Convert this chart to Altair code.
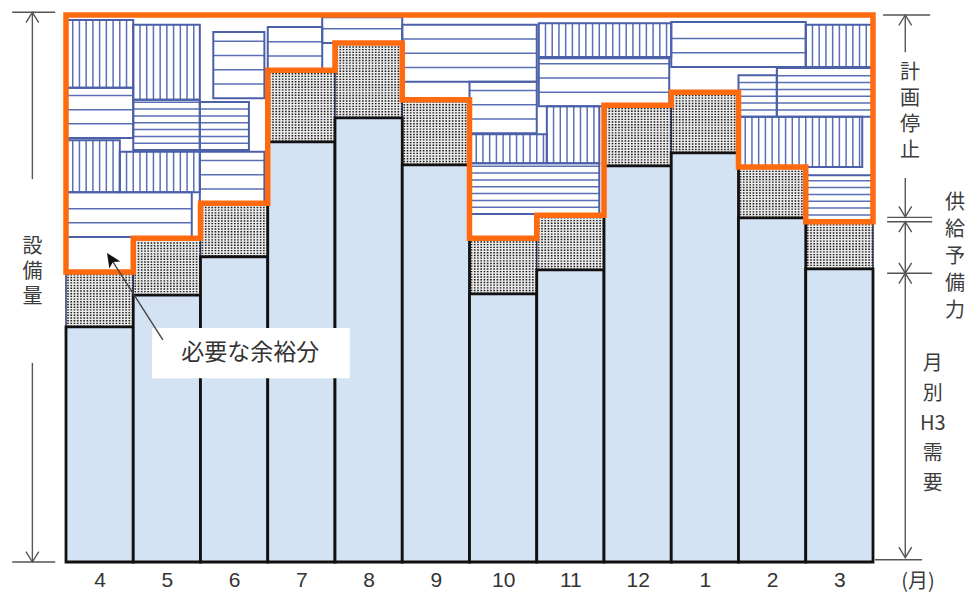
import json

import altair as alt
import numpy as np
import pandas as pd

# Fiscal-year months and monthly H3 demand / required reserve (capacity = 100)
months = ["4", "5", "6", "7", "8", "9", "10", "11", "12", "1", "2", "3"]
demand = [43.0, 48.8, 55.8, 76.8, 81.2, 72.6, 49.0, 53.4, 72.4, 74.8, 62.9, 53.6]
reserve = [10.0, 10.4, 9.8, 13.1, 13.7, 11.9, 10.2, 10.0, 11.1, 11.1, 9.3, 8.6]
capacity = 100.0

# Planned outages: month span, output span, hatch style
# (v = vertical lines, h = horizontal lines, hd = dense horizontal lines)
outage_start = [0.0, 1.0, 2.19, 3.0, 3.81, 5.0, 6.0, 6.0, 7.15, 6.0, 7.03, 7.03, 9.0,
                11.0, 10.0, 10.57, 10.0, 11.0, 0.0, 1.0, 1.99, 0.0, 0.8, 1.99, 0.0]
outage_end = [1.0, 1.99, 2.95, 3.81, 5.0, 7.0, 7.0, 7.15, 7.93, 7.93, 9.0, 8.97, 11.0,
              12.0, 10.57, 12.0, 11.84, 12.0, 1.0, 1.99, 2.72, 0.8, 1.99, 2.95, 1.87]
outage_low = [86.7, 84.5, 84.8, 89.9, 94.9, 87.8, 78.4, 72.9, 72.9, 63.6, 92.3, 83.3, 90.5,
              90.5, 81.4, 81.4, 72.2, 62.2, 77.5, 75.3, 75.3, 67.6, 67.6, 65.6, 59.4]
outage_high = [99.1, 98.2, 96.9, 97.8, 99.6, 98.2, 87.8, 78.2, 83.3, 72.9, 98.5, 92.1, 98.7,
               98.2, 89.0, 90.3, 81.4, 70.7, 86.7, 84.5, 84.1, 77.1, 75.0, 75.0, 67.6]
outage_hatch = ["v", "v", "h", "h", "h", "h", "h", "v", "v", "hd", "v", "h", "h",
                "v", "hd", "hd", "v", "hd", "h", "hd", "hd", "v", "v", "h", "h"]

n = len(months)
required = [round(d + r, 2) for d, r in zip(demand, reserve)]

JP = "Noto Sans CJK JP"
TXT = "#3c3c3c"
BLUE = "#4b60a8"
ORANGE = "#ff6a0e"

xscale = alt.Scale(domain=[0, n], nice=False, zero=False)
yscale = alt.Scale(domain=[0, capacity], nice=False, zero=False)
label_expr = json.dumps(months) + "[floor(datum.value)]"
xaxis = alt.Axis(values=[i + 0.5 for i in range(n)], labelExpr=label_expr, domain=False,
                 ticks=False, grid=False, labelFontSize=21,
                 labelFont="Liberation Sans Narrow, Liberation Sans, sans-serif",
                 labelColor="#333333", labelPadding=7, labelOverlap=False, title=None)


def X(f="x"):
    return alt.X(f"{f}:Q", scale=xscale, axis=xaxis, title=None)


def Y(f="y"):
    return alt.Y(f"{f}:Q", scale=yscale, axis=None, title=None)


# demand bars and reserve boxes
idx = np.arange(n)
bars = pd.DataFrame({"x": idx, "x2": idx + 1, "y": 0.0, "y2": demand})
res = pd.DataFrame({"x": idx, "x2": idx + 1, "y": demand, "y2": required})

# dotted texture inside the reserve boxes
stip = []
for i in range(n):
    for xv in np.arange(i + 0.03, i + 1, 0.048):
        stip.append({"x": xv, "x2": xv, "y": demand[i], "y2": required[i]})
stip = pd.DataFrame(stip)

# outage blocks and their hatching
blocks = pd.DataFrame({"x": outage_start, "x2": outage_end, "y": outage_low,
                       "y2": outage_high, "hatch": outage_hatch})
step = {"v": 0.1, "h": 2.6, "hd": 1.25}
hat = []
for b in blocks.itertuples():
    s = step[b.hatch]
    if b.hatch == "v":
        for xv in np.arange(b.x + s, b.x2 - 0.3 * s, s):
            hat.append({"x": xv, "x2": xv, "y": b.y, "y2": b.y2})
    else:
        for yv in np.arange(b.y + s, b.y2 - 0.3 * s, s):
            hat.append({"x": b.x, "x2": b.x2, "y": yv, "y2": yv})
hat = pd.DataFrame(hat)

# orange outline: capacity on top, required level stepping underneath
ox, oy = [0.0], [capacity]
for i in range(n):
    ox += [float(i), float(i + 1)]
    oy += [required[i], required[i]]
ox += [float(n), 0.0]
oy += [capacity, capacity]
outline = pd.DataFrame({"x": ox, "y": oy, "k": range(len(ox))})

reserve_layer = alt.Chart(res).mark_rect(fill="#ebebeb", stroke="#2b3a6a", strokeWidth=1.5).encode(
    x=X(), x2="x2:Q", y=Y(), y2="y2:Q")
stip_layer = alt.Chart(stip).mark_rule(color="#1e1e1e", strokeWidth=1.6, strokeDash=[1.4, 1.3]).encode(
    x=X(), x2="x2:Q", y=Y(), y2="y2:Q")
bar_layer = alt.Chart(bars).mark_rect(fill="#d4e3f4", stroke="#111111", strokeWidth=2.8).encode(
    x=X(), x2="x2:Q", y=Y(), y2="y2:Q")
block_fill = alt.Chart(blocks).mark_rect(fill="white").encode(
    x=X(), x2="x2:Q", y=Y(), y2="y2:Q")
hatch_layer = alt.Chart(hat).mark_rule(color="#5a6fb6", strokeWidth=1.5).encode(
    x=X(), x2="x2:Q", y=Y(), y2="y2:Q")
block_edge = alt.Chart(blocks).mark_rect(fill=None, stroke=BLUE, strokeWidth=2).encode(
    x=X(), x2="x2:Q", y=Y(), y2="y2:Q")
outline_layer = alt.Chart(outline).mark_line(
    color=ORANGE, strokeWidth=5.5, strokeJoin="miter", strokeCap="square").encode(
    x=X(), y=Y(), order="k:Q")

# dimension lines around the chart
top_r = required[-1]
low_r = demand[-1] - 0.8
segs = pd.DataFrame([
    # left: 設備量
    {"x": -0.80, "x2": -0.16, "y": 100.5, "y2": 100.5},
    {"x": -0.80, "x2": -0.16, "y": 0.0, "y2": 0.0},
    {"x": -0.50, "x2": -0.50, "y": 100.5, "y2": 70.0},
    {"x": -0.50, "x2": -0.50, "y": 36.4, "y2": 0.0},
    # right: 計画停止
    {"x": 12.15, "x2": 12.85, "y": capacity, "y2": capacity},
    {"x": 12.48, "x2": 12.48, "y": capacity, "y2": 93.2},
    {"x": 12.48, "x2": 12.48, "y": 70.2, "y2": top_r + 0.9},
    {"x": 12.21, "x2": 12.88, "y": top_r + 0.8, "y2": top_r + 0.8},
    # right: 供給予備力
    {"x": 12.21, "x2": 12.88, "y": top_r, "y2": top_r},
    {"x": 12.48, "x2": 12.48, "y": top_r, "y2": low_r},
    {"x": 12.21, "x2": 12.88, "y": low_r, "y2": low_r},
    # right: 月別H3需要
    {"x": 12.48, "x2": 12.48, "y": low_r, "y2": 0.8},
    {"x": 12.03, "x2": 12.73, "y": 0.4, "y2": 0.4},
])
heads = pd.DataFrame([
    {"x": -0.50, "y": 100.5, "a": 0}, {"x": -0.50, "y": 0.0, "a": 180},
    {"x": 12.48, "y": capacity, "a": 0}, {"x": 12.48, "y": top_r + 0.9, "a": 180},
    {"x": 12.48, "y": top_r, "a": 0}, {"x": 12.48, "y": low_r, "a": 180},
    {"x": 12.48, "y": low_r, "a": 0}, {"x": 12.48, "y": 0.8, "a": 180},
])
seg_layer = alt.Chart(segs).mark_rule(color="#555555", strokeWidth=1.4).encode(
    x=X(), x2="x2:Q", y=Y(), y2="y2:Q")
head_layer = alt.Chart(heads).mark_point(
    shape="M-0.8,1.3L0,0L0.8,1.3", filled=False, size=256, color="#555555", strokeWidth=1.4,
    opacity=1).encode(x=X(), y=Y(), angle=alt.Angle("a:Q", scale=None))

# stacked vertical labels; y is the first character's position
labels = pd.DataFrame([
    {"x": -0.50, "y": 57.6, "t": "設\n備\n量", "lh": 25},
    {"x": 12.55, "y": 89.4, "t": "計\n画\n停\n止", "lh": 26},
    {"x": 13.22, "y": 65.6, "t": "供\n給\n予\n備\n力", "lh": 27},
    {"x": 12.89, "y": 36.2, "t": "月\n別\nH3\n需\n要", "lh": 30},
])
label_layers = [
    alt.Chart(labels.iloc[[k]]).mark_text(
        font=JP, fontSize=20, color=TXT, lineBreak="\n", lineHeight=int(labels.lh[k]),
        align="center", baseline="middle").encode(x=X(), y=Y(), text="t:N")
    for k in range(len(labels))
]
unit_layer = alt.Chart(pd.DataFrame({"x": [12.67], "y": [-3.7], "t": ["(月)"]})).mark_text(
    font=JP, fontSize=20, color=TXT, align="center", baseline="middle").encode(
    x=X(), y=Y(), text="t:N")

# callout for the required margin
call_box = alt.Chart(pd.DataFrame({"x": [1.28], "x2": [4.22], "y": [33.6], "y2": [42.8]})).mark_rect(
    fill="white").encode(x=X(), x2="x2:Q", y=Y(), y2="y2:Q")
call_text = alt.Chart(pd.DataFrame({"x": [2.74], "y": [38.2], "t": ["必要な余裕分"]})).mark_text(
    font=JP, fontSize=23, color="#333333", align="center", baseline="middle").encode(
    x=X(), y=Y(), text="t:N")
call_line = alt.Chart(pd.DataFrame({"x": [1.44], "x2": [0.66], "y": [40.6], "y2": [55.6]})).mark_rule(
    color="#444444", strokeWidth=1.4).encode(x=X(), x2="x2:Q", y=Y(), y2="y2:Q")
call_head = alt.Chart(pd.DataFrame({"x": [0.61], "y": [56.5], "a": [327]})).mark_point(
    shape="M0,0L-0.55,1.2L0,0.9L0.55,1.2Z", filled=True, size=576, color="#111111",
    opacity=1).encode(x=X(), y=Y(), angle=alt.Angle("a:Q", scale=None))

chart = alt.layer(
    reserve_layer, stip_layer, bar_layer, block_fill, hatch_layer, block_edge, outline_layer,
    seg_layer, head_layer, *label_layers, unit_layer, call_box, call_text, call_line, call_head,
).properties(
    width=807, height=547,
    autosize=alt.AutoSizeParams(type="none"),
    padding={"left": 66, "top": 15, "right": 95, "bottom": 44},
).configure_view(stroke=None).configure(background="white")

chart.save("out.html", embed_options={"renderer": "svg", "actions": False})
